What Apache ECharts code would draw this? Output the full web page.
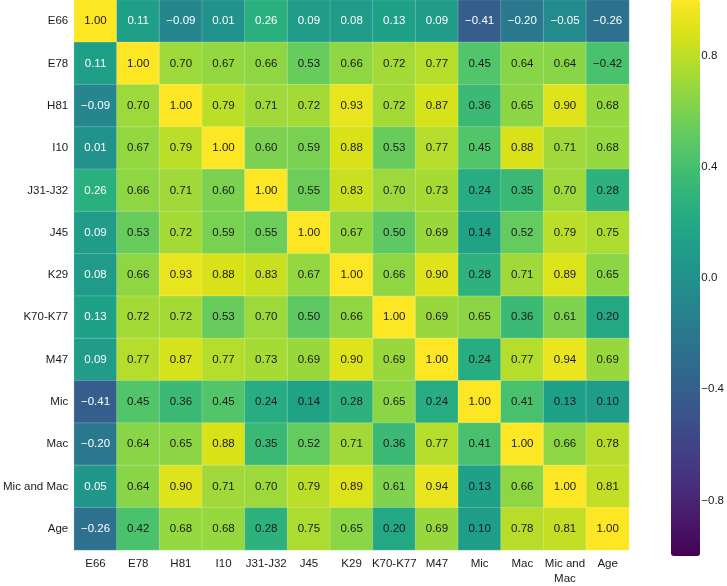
<!DOCTYPE html>
<html>
<head>
<meta charset="utf-8">
<script src="https://cdn.jsdelivr.net/npm/echarts@6/dist/echarts.min.js"></script>
<style>
html,body{margin:0;padding:0;background:#fff;}
#chart{width:727px;height:586px;}
</style>
</head>
<body>
<div id="chart"></div>
<script>
// Categories (rows top→bottom, columns left→right)
const categories = ['E66','E78','H81','I10','J31-J32','J45','K29','K70-K77','M47','Mic','Mac','Mic and Mac','Age'];

// Correlation values per row
const rowE66    = [ 1.00, 0.11,-0.09, 0.01, 0.26, 0.09, 0.08, 0.13, 0.09,-0.41,-0.20,-0.05,-0.26];
const rowE78    = [ 0.11, 1.00, 0.70, 0.67, 0.66, 0.53, 0.66, 0.72, 0.77, 0.45, 0.64, 0.64, 0.42];
const rowH81    = [-0.09, 0.70, 1.00, 0.79, 0.71, 0.72, 0.93, 0.72, 0.87, 0.36, 0.65, 0.90, 0.68];
const rowI10    = [ 0.01, 0.67, 0.79, 1.00, 0.60, 0.59, 0.88, 0.53, 0.77, 0.45, 0.88, 0.71, 0.68];
const rowJ31    = [ 0.26, 0.66, 0.71, 0.60, 1.00, 0.55, 0.83, 0.70, 0.73, 0.24, 0.35, 0.70, 0.28];
const rowJ45    = [ 0.09, 0.53, 0.72, 0.59, 0.55, 1.00, 0.67, 0.50, 0.69, 0.14, 0.52, 0.79, 0.75];
const rowK29    = [ 0.08, 0.66, 0.93, 0.88, 0.83, 0.67, 1.00, 0.66, 0.90, 0.28, 0.71, 0.89, 0.65];
const rowK70    = [ 0.13, 0.72, 0.72, 0.53, 0.70, 0.50, 0.66, 1.00, 0.69, 0.65, 0.36, 0.61, 0.20];
const rowM47    = [ 0.09, 0.77, 0.87, 0.77, 0.73, 0.69, 0.90, 0.69, 1.00, 0.24, 0.77, 0.94, 0.69];
const rowMic    = [-0.41, 0.45, 0.36, 0.45, 0.24, 0.14, 0.28, 0.65, 0.24, 1.00, 0.41, 0.13, 0.10];
const rowMac    = [-0.20, 0.64, 0.65, 0.88, 0.35, 0.52, 0.71, 0.36, 0.77, 0.41, 1.00, 0.66, 0.78];
const rowMicMac = [ 0.05, 0.64, 0.90, 0.71, 0.70, 0.79, 0.89, 0.61, 0.94, 0.13, 0.66, 1.00, 0.81];
const rowAge    = [-0.26, 0.42, 0.68, 0.68, 0.28, 0.75, 0.65, 0.20, 0.69, 0.10, 0.78, 0.81, 1.00];

// Printed label that differs from the cell colour value in the reference
const labelOverrides = [{row: 'E78', col: 'Age', text: '\u22120.42'}];

// Colour bar tick labels
const colorbarTicks = [-0.8, -0.4, 0.0, 0.4, 0.8];

const rows = [rowE66,rowE78,rowH81,rowI10,rowJ31,rowJ45,rowK29,rowK70,rowM47,rowMic,rowMac,rowMicMac,rowAge];

const viridis = ['#440154','#48186a','#472d7b','#424086','#3b528b','#33638d','#2c728e','#26828e',
                 '#21918c','#1fa088','#28ae80','#3fbc73','#5ec962','#84d44b','#addc30','#d8e219','#fde725'];

function fmt(v){ return v.toFixed(2).replace('-', '\u2212'); }

const data = [];
rows.forEach((r, yi) => {
  r.forEach((v, xi) => {
    const ov = labelOverrides.find(o => o.row === categories[yi] && o.col === categories[xi]);
    const white = (yi === 0 || xi === 0) && yi !== xi;
    data.push({
      value: [xi, yi, v],
      labelText: ov ? ov.text : fmt(v),
      label: {color: white ? '#ffffff' : '#1a1a1a'}
    });
  });
});

const chart = echarts.init(document.getElementById('chart'), null, {renderer: 'canvas'});
const font = "'Liberation Sans', Arial, Helvetica, sans-serif";

chart.setOption({
  animation: false,
  backgroundColor: '#ffffff',
  grid: [
    {left: 72, top: 0, width: 557, height: 556},
    {left: 671, top: 0, width: 29, height: 556}
  ],
  xAxis: [
    {
      type: 'category', data: categories, gridIndex: 0, position: 'bottom',
      axisLine: {show: false}, axisTick: {show: false}, splitLine: {show: false},
      axisLabel: {
        interval: 0, margin: 6, fontSize: 11.5, color: '#1a1a1a', fontFamily: font, lineHeight: 15,
        formatter: s => s === 'Mic and Mac' ? 'Mic and\nMac' : s
      }
    },
    {type: 'value', gridIndex: 1, show: false, min: 0, max: 1}
  ],
  yAxis: [
    {
      type: 'category', data: categories, gridIndex: 0, inverse: true,
      axisLine: {show: false}, axisTick: {show: false}, splitLine: {show: false},
      axisLabel: {interval: 0, margin: 6, fontSize: 11.5, color: '#1a1a1a', fontFamily: font}
    },
    {
      type: 'value', gridIndex: 1, position: 'right', min: -1, max: 1, interval: 0.2,
      axisLine: {show: false}, axisTick: {show: false}, splitLine: {show: false},
      axisLabel: {
        margin: 8, fontSize: 11.5, color: '#1a1a1a', fontFamily: font,
        formatter: v => {
          const r = Math.round(v * 10) / 10;
          return colorbarTicks.some(t => Math.abs(t - r) < 1e-6) ? r.toFixed(1).replace('-', '\u2212') : '';
        }
      }
    }
  ],
  visualMap: {
    type: 'continuous', min: -1, max: 1, dimension: 2, seriesIndex: 0,
    calculable: false, show: true, orient: 'vertical',
    left: 671, top: 0, itemWidth: 29, itemHeight: 556, padding: 0,
    text: null, showLabel: false,
    inRange: {color: viridis}
  },
  series: [{
    type: 'heatmap', xAxisIndex: 0, yAxisIndex: 0,
    data: data,
    itemStyle: {borderColor: 'rgba(255,255,255,0.35)', borderWidth: 0.6},
    label: {
      show: true, fontSize: 11.5, fontFamily: font,
      formatter: p => p.data.labelText
    },
    emphasis: {disabled: true}
  }]
});
</script>
</body>
</html>
